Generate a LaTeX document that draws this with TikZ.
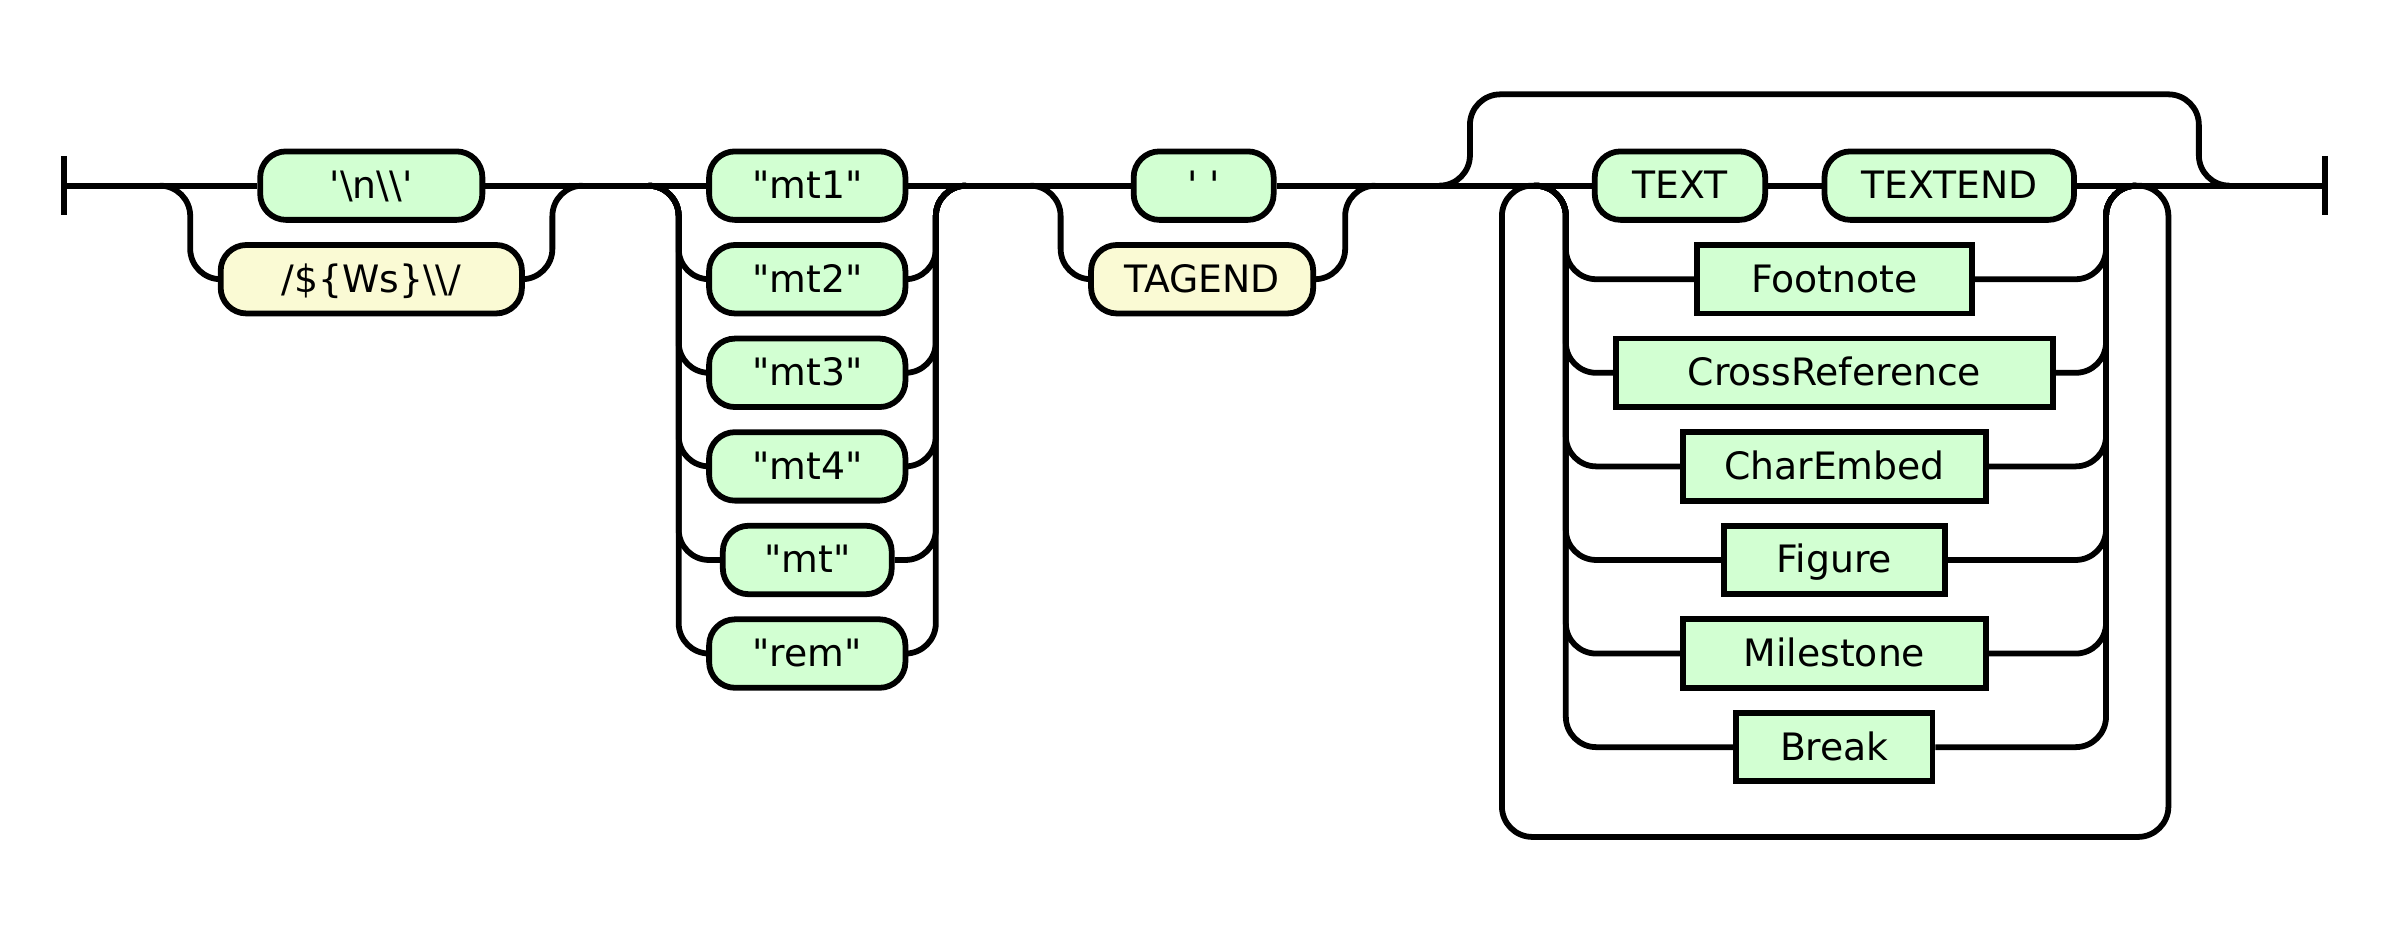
\documentclass[tikz,border=0pt]{standalone}
\usepackage{fontspec}
\setmainfont{DejaVu Sans}
\definecolor{TermClr}{RGB}{210,255,210}
\definecolor{RegexClr}{RGB}{250,250,212}

\begin{document}
\begin{tikzpicture}[x=1pt,y=-1pt,
  rail/.style={line width=3.8pt,rounded corners=20pt},
  bar/.style={line width=3.8pt},
  box/.style={draw,line width=3.8pt,fill=TermClr,minimum height=45pt,inner sep=0pt,
    font=\fontsize{24.8}{29}\selectfont,text height=18pt,text depth=1pt},
  term/.style={box,rounded corners=17pt},
  regex/.style={term,fill=RegexClr}]
\useasboundingbox (0,0) rectangle (1568,612);

\coordinate (start) at (42,122);
\coordinate (stop) at (1528,122);
\coordinate (g1a) at (105,122);
\coordinate (g1b) at (383,122);
\coordinate (g2a) at (426,122);
\coordinate (g2b) at (635,122);
\coordinate (g3a) at (677,122);
\coordinate (g3b) at (904,122);
\coordinate (g4a) at (946,122);
\coordinate (g4b) at (1465,122);
\coordinate (g5a) at (1008,122);
\coordinate (g5b) at (1404,122);

\node[term,minimum width=146pt] (nl) at (244,122) {\textquotesingle\textbackslash n\textbackslash\textbackslash\textquotesingle};
\node[regex,minimum width=198pt] (ws) at (244,183.5) {/\$\{Ws\}\textbackslash\textbackslash/};

\node[term,minimum width=129pt] (mt1) at (530.5,122) {\textquotedbl mt1\textquotedbl};
\node[term,minimum width=129pt] (mt2) at (530.5,183.5) {\textquotedbl mt2\textquotedbl};
\node[term,minimum width=129pt] (mt3) at (530.5,245) {\textquotedbl mt3\textquotedbl};
\node[term,minimum width=129pt] (mt4) at (530.5,306.5) {\textquotedbl mt4\textquotedbl};
\node[term,minimum width=111pt] (mt) at (530.5,368) {\textquotedbl mt\textquotedbl};
\node[term,minimum width=129pt] (rem) at (530.5,429.5) {\textquotedbl rem\textquotedbl};

\node[term,minimum width=92pt] (sp) at (791,122) {\textquotesingle\ \textquotesingle};
\node[regex,minimum width=146pt] (tagend) at (790,183.5) {TAGEND};

\node[term,minimum width=112pt] (text) at (1104,122) {TEXT};
\node[term,minimum width=164pt] (textend) at (1281,122) {TEXTEND};
\node[box,minimum width=181pt] (fn) at (1205.5,183.5) {Footnote};
\node[box,minimum width=287pt] (cref) at (1205.5,245) {CrossReference};
\node[box,minimum width=199pt] (ce) at (1205.5,306.5) {CharEmbed};
\node[box,minimum width=145pt] (fig) at (1205.5,368) {Figure};
\node[box,minimum width=199pt] (ms) at (1205.5,429.5) {Milestone};
\node[box,minimum width=129pt] (brk) at (1205.5,491) {Break};

\draw[bar] ([yshift=19.5pt]start) -- ([yshift=-19.5pt]start);
\draw[bar] ([yshift=19.5pt]stop) -- ([yshift=-19.5pt]stop);

\draw[rail] (start) -- (nl.west);
\draw[rail] (nl.east) -- (mt1.west);
\draw[rail] (mt1.east) -- (sp.west);
\draw[rail] (sp.east) -- (text.west);
\draw[rail] (text.east) -- (textend.west);
\draw[rail] (textend.east) -- (stop);

\draw[rail] (g1a) -- ++(20,0) |- (ws.west);
\draw[rail] (ws.east) -| ([xshift=-20pt]g1b) -- (g1b);

\draw[rail] (g2a) -- ++(20,0) |- (mt2.west);
\draw[rail] (g2a) -- ++(20,0) |- (mt3.west);
\draw[rail] (g2a) -- ++(20,0) |- (mt4.west);
\draw[rail] (g2a) -- ++(20,0) |- (mt.west);
\draw[rail] (g2a) -- ++(20,0) |- (rem.west);
\draw[rail] (mt2.east) -| ([xshift=-20pt]g2b) -- (g2b);
\draw[rail] (mt3.east) -| ([xshift=-20pt]g2b) -- (g2b);
\draw[rail] (mt4.east) -| ([xshift=-20pt]g2b) -- (g2b);
\draw[rail] (mt.east) -| ([xshift=-20pt]g2b) -- (g2b);
\draw[rail] (rem.east) -| ([xshift=-20pt]g2b) -- (g2b);

\draw[rail] (g3a) -- ++(20,0) |- (tagend.west);
\draw[rail] (tagend.east) -| ([xshift=-20pt]g3b) -- (g3b);

\draw[rail] (g4a) -- ++(20,0) -- ++(0,-60) -| ([xshift=-20pt]g4b) -- (g4b);
\draw[rail] (g5a) -- ++(-21,0) -- ++(0,428) -- ++(438,0) -- ++(0,-428) -- (g5b);

\draw[rail] (g5a) -- ++(21,0) |- (fn.west);
\draw[rail] (g5a) -- ++(21,0) |- (cref.west);
\draw[rail] (g5a) -- ++(21,0) |- (ce.west);
\draw[rail] (g5a) -- ++(21,0) |- (fig.west);
\draw[rail] (g5a) -- ++(21,0) |- (ms.west);
\draw[rail] (g5a) -- ++(21,0) |- (brk.west);
\draw[rail] (fn.east) -| ([xshift=-20pt]g5b) -- (g5b);
\draw[rail] (cref.east) -| ([xshift=-20pt]g5b) -- (g5b);
\draw[rail] (ce.east) -| ([xshift=-20pt]g5b) -- (g5b);
\draw[rail] (fig.east) -| ([xshift=-20pt]g5b) -- (g5b);
\draw[rail] (ms.east) -| ([xshift=-20pt]g5b) -- (g5b);
\draw[rail] (brk.east) -| ([xshift=-20pt]g5b) -- (g5b);

\end{tikzpicture}
\end{document}
